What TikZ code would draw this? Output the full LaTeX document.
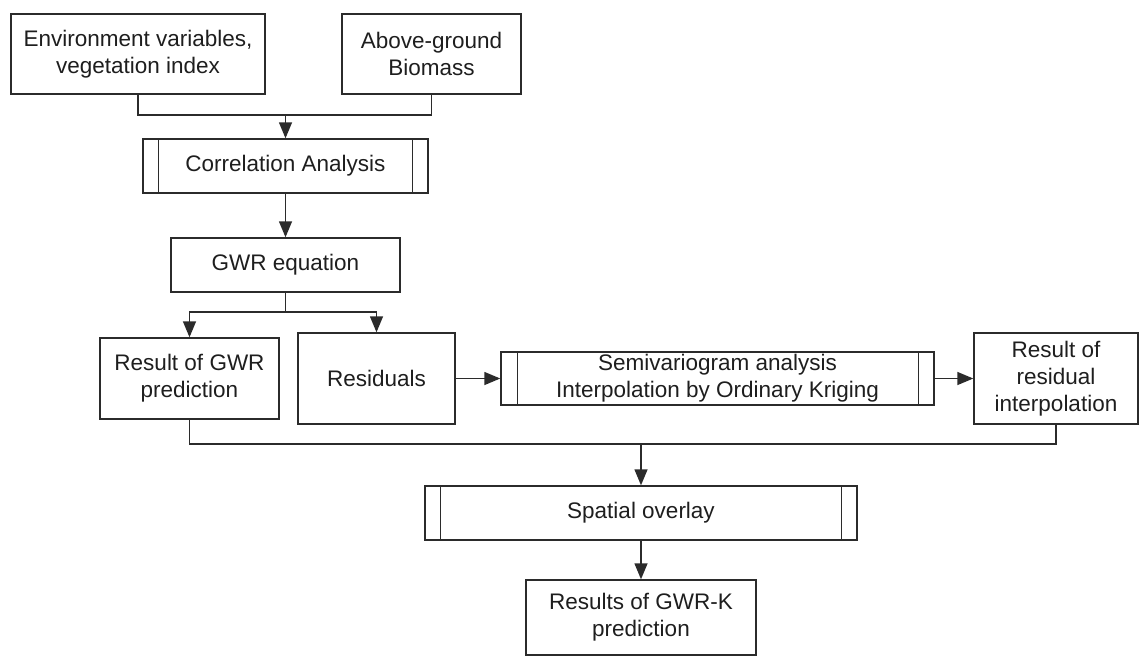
\documentclass[tikz,border=0pt]{standalone}
\usepackage{fontspec}
\setmainfont{Liberation Sans}
\usetikzlibrary{arrows.meta}
\definecolor{ln}{HTML}{2B2B2B}
\definecolor{tx}{HTML}{1E1E1E}
\tikzset{
  box/.style={draw=ln, line width=1.4pt, rectangle, inner sep=0pt, align=center,
    text=tx, font=\fontsize{22.5}{27}\selectfont},
  conn/.style={draw=ln, line width=1.4pt},
  arr/.style={conn, -{Triangle[length=16pt,width=13pt]}},
  inner/.style={draw=ln, line width=1.2pt}
}
\begin{document}
\begin{tikzpicture}[x=1pt,y=-1pt]
\useasboundingbox (0,0) rectangle (1141,656);
\node[box, minimum width=254pt, minimum height=80pt] (env) at (138,54) {Environment variables,\\vegetation index};
\node[box, minimum width=179pt, minimum height=80pt] (agb) at (431.5,54) {Above-ground\\Biomass};
\node[box, minimum width=285pt, minimum height=54pt] (corr) at (285.5,166) {Correlation Analysis};
\node[box, minimum width=229pt, minimum height=54pt] (gwr) at (285.5,265) {GWR equation};
\node[box, minimum width=179pt, minimum height=81pt] (rgwr) at (189.5,378.5) {Result of GWR\\prediction};
\node[box, minimum width=157pt, minimum height=91pt] (resid) at (376.5,378.5) {Residuals};
\node[box, minimum width=433pt, minimum height=53pt] (semi) at (717.5,378.5) {Semivariogram analysis\\Interpolation by Ordinary Kriging};
\node[box, minimum width=164pt, minimum height=91pt] (rres) at (1056,378.5) {Result of\\residual\\interpolation};
\node[box, minimum width=432pt, minimum height=54pt] (ovl) at (641,513) {Spatial overlay};
\node[box, minimum width=230pt, minimum height=75pt] (fin) at (641,617.5) {Results of GWR-K\\prediction};
% inner lines of process boxes
\draw[inner] ([xshift=16.5pt]corr.north west) -- ([xshift=16.5pt]corr.south west);
\draw[inner] ([xshift=-16.5pt]corr.north east) -- ([xshift=-16.5pt]corr.south east);
\draw[inner] ([xshift=17pt]semi.north west) -- ([xshift=17pt]semi.south west);
\draw[inner] ([xshift=-16pt]semi.north east) -- ([xshift=-16pt]semi.south east);
\draw[inner] ([xshift=16pt]ovl.north west) -- ([xshift=16pt]ovl.south west);
\draw[inner] ([xshift=-16pt]ovl.north east) -- ([xshift=-16pt]ovl.south east);
% connectors
\coordinate (j1) at (285.5,115);
\coordinate (j2) at (285.5,312);
\coordinate (j3) at (641,444);
\draw[conn] (env.south) |- (j1) -| (agb.south);
\draw[arr] (j1) -- (corr.north);
\draw[arr] (corr.south) -- (gwr.north);
\draw[conn] (gwr.south) -- (j2);
\draw[arr] (j2) -| (rgwr.north);
\draw[arr] (j2) -| (resid.north);
\draw[arr] (resid.east) -- (semi.west);
\draw[arr] (semi.east) -- (rres.west);
\draw[conn] (rgwr.south) |- (j3) -| (rres.south);
\draw[arr] (j3) -- (ovl.north);
\draw[arr] (ovl.south) -- (fin.north);
\end{tikzpicture}
\end{document}
